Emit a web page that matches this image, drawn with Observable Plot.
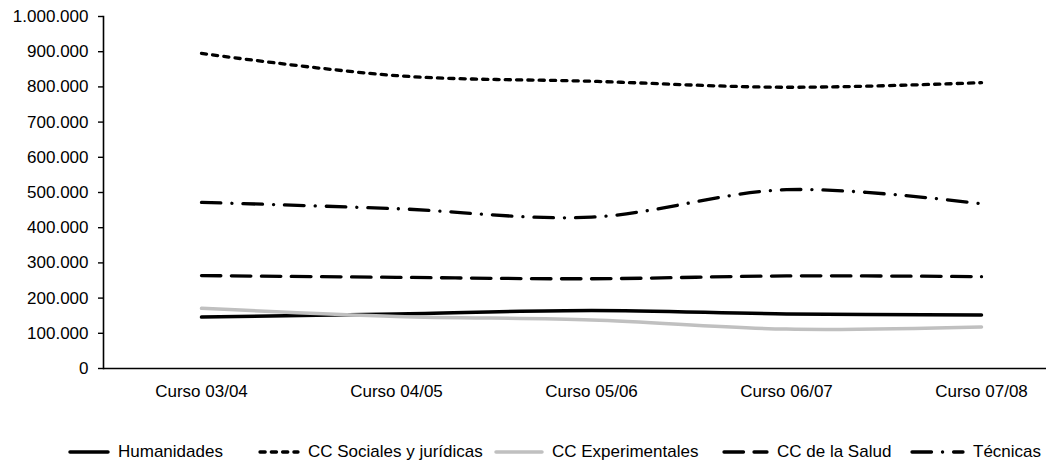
<!DOCTYPE html>
<html>
<head>
<meta charset="utf-8">
<script src="https://cdn.jsdelivr.net/npm/d3@7"></script>
<script src="https://cdn.jsdelivr.net/npm/@observablehq/plot@0.6"></script>
<style>
  html, body { margin: 0; padding: 0; background: #fff; }
  #chart { position: relative; width: 1046px; height: 464px; font-family: "Liberation Sans", Arial, sans-serif; }
  #legend { position: absolute; left: 0; top: 442px; width: 1046px; height: 20px; font-size: 17px; color: #000; }
  .item { position: absolute; top: 0; height: 20px; display: flex; align-items: center; white-space: nowrap; }
  .item svg { display: block; margin-right: 8px; }
</style>
</head>
<body>
<div id="chart"></div>
<script>
// Matrícula por rama de conocimiento, cursos 2003/04 a 2007/08
const categories = ["Curso 03/04", "Curso 04/05", "Curso 05/06", "Curso 06/07", "Curso 07/08"];
const seriesNames = ["Humanidades", "CC Sociales y jurídicas", "CC Experimentales", "CC de la Salud", "Técnicas"];
const humanidades    = [146000, 155000, 165000, 155000, 152000];
const sociales       = [895000, 832000, 816000, 799000, 812000];
const experimentales = [171000, 148000, 138000, 112000, 118000];
const salud          = [264000, 259000, 255000, 263000, 261000];
const tecnicas       = [472000, 454000, 430000, 508000, 468000];
const yTicks = d3.range(0, 1000001, 100000);

const seriesValues = [humanidades, sociales, experimentales, salud, tecnicas];

// Line styles for each series (colour, width, dash pattern)
const styles = {
  "Humanidades":             {stroke: "#000", width: 3.5, dash: null},
  "CC Sociales y jurídicas": {stroke: "#000", width: 3.3, dash: "5.2,6.1"},
  "CC Experimentales":       {stroke: "#c0c0c0", width: 3.5, dash: null},
  "CC de la Salud":          {stroke: "#000", width: 3.3, dash: "19.5,10.5"},
  "Técnicas":                {stroke: "#000", width: 3.3, dash: "19.5,11,0.1,11"}
};

const rows = seriesNames.flatMap((name, i) =>
  categories.map((c, j) => ({serie: name, curso: c, value: seriesValues[i][j]}))
);

const es = d3.formatLocale({decimal: ",", thousands: ".", grouping: [3], currency: ["", " €"]});
const fmt = es.format(",");

const lineMarks = seriesNames.map(name => {
  const s = styles[name];
  return Plot.line(rows.filter(d => d.serie === name), {
    x: "curso", y: "value",
    stroke: s.stroke, strokeWidth: s.width,
    strokeDasharray: s.dash ?? undefined,
    strokeLinecap: "round", strokeLinejoin: "round",
    curve: "catmull-rom"
  });
});

const plot = Plot.plot({
  width: 1046,
  height: 420,
  marginLeft: 103,
  marginRight: 0,
  marginTop: 16,
  marginBottom: 52,
  style: {fontFamily: "'Liberation Sans', Arial, sans-serif", fontSize: "17px", color: "#000", background: "#fff"},
  x: {type: "point", domain: categories, range: [200, 982], padding: 0},
  y: {domain: [0, 1000000]},
  marks: [
    Plot.axisY({ticks: yTicks, tickFormat: fmt, tickSize: 5, tickPadding: 10, label: null, stroke: "#000", strokeWidth: 1.4, strokeOpacity: 1}),
    Plot.axisX({tickSize: 0, tickPadding: 16, label: null}),
    Plot.frame({anchor: "left", stroke: "#000", strokeWidth: 1.6}),
    Plot.ruleY([0], {stroke: "#000", strokeWidth: 1.6}),
    ...lineMarks
  ]
});

const chart = document.getElementById("chart");
chart.appendChild(plot);

// Legend below the plot
const legendX = [{line: 68, w: 42}, {line: 258, w: 42}, {line: 494, w: 50}, {line: 722, w: 47}, {line: 910, w: 55}];
const legend = document.createElement("div");
legend.id = "legend";
seriesNames.forEach((name, i) => {
  const s = styles[name];
  const item = document.createElement("div");
  item.className = "item";
  item.style.left = legendX[i].line + "px";
  const w = legendX[i].w;
  const svg = d3.create("svg").attr("width", w).attr("height", 10);
  svg.append("line")
    .attr("x1", 2).attr("x2", w - 2).attr("y1", 5).attr("y2", 5)
    .attr("stroke", s.stroke).attr("stroke-width", s.width)
    .attr("stroke-linecap", "round")
    .attr("stroke-dasharray", s.dash);
  item.appendChild(svg.node());
  const label = document.createElement("span");
  label.textContent = name;
  item.appendChild(label);
  legend.appendChild(item);
});
chart.appendChild(legend);
</script>
</body>
</html>
